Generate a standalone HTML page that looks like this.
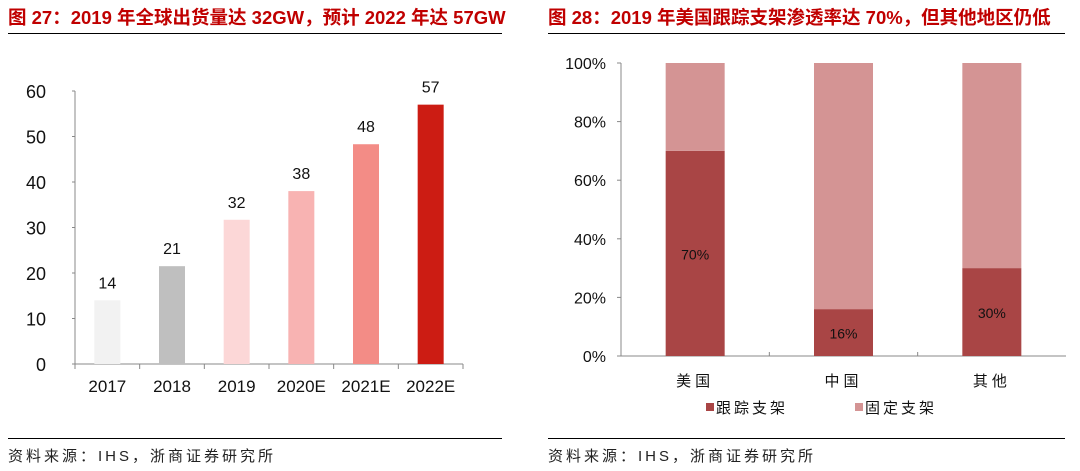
<!DOCTYPE html>
<html><head><meta charset="utf-8">
<style>
body{margin:0;background:#fff;width:1080px;height:471px;overflow:hidden;font-family:"Liberation Sans","Noto Sans CJK SC",sans-serif;}
svg{display:block}
</style></head>
<body>
<svg width="1080" height="471" xmlns="http://www.w3.org/2000/svg">
<g>
<text x="8" y="24" font-size="18.5" font-weight="bold" fill="#c00000" font-family="Liberation Sans,Noto Sans CJK SC,sans-serif">图 27：2019 年全球出货量达 32GW，预计 2022 年达 57GW</text>
<line x1="8" y1="33.5" x2="502" y2="33.5" stroke="#000" stroke-width="1"/>
</g>
<g>
<text x="548" y="24" font-size="18.5" font-weight="bold" fill="#c00000" font-family="Liberation Sans,Noto Sans CJK SC,sans-serif">图 28：2019 年美国跟踪支架渗透率达 70%，但其他地区仍低</text>
<line x1="548" y1="33.5" x2="1065" y2="33.5" stroke="#000" stroke-width="1"/>
</g>
<g id="left"></g>
<g id="right"></g>
<line x1="8" y1="438.5" x2="502" y2="438.5" stroke="#000"/>
<text x="8" y="461" font-size="15" fill="#222" letter-spacing="3">资料来源：IHS，浙商证券研究所</text>
<line x1="548" y1="438.5" x2="1065" y2="438.5" stroke="#000"/>
<text x="548" y="461" font-size="15" fill="#222" letter-spacing="3">资料来源：IHS，浙商证券研究所</text>
</svg>
<script>
const years=["2017","2018","2019","2020E","2021E","2022E"];
const shipments=[14,21.5,31.7,38,48.3,57];
const labels=["14","21","32","38","48","57"];
const yTicksL=[0,10,20,30,40,50,60];
const regions=["美国","中国","其他"];
const tracking=[70,16,30];
const fixed=[30,84,70];
const yTicksR=[0,20,40,60,80,100];
const NS="http://www.w3.org/2000/svg";
function mk(p,t,a,txt){const e=document.createElementNS(NS,t);for(const k in a)e.setAttribute(k,a[k]);if(txt!==undefined)e.textContent=txt;p.appendChild(e);return e;}
const L=document.getElementById('left');
const lx0=75,lx1=463,ly0=364,ly1=91;
const ly=v=>ly0-(v/60)*(ly0-ly1);
const lbw=(lx1-lx0)/years.length;
const colors=["#f2f2f2","#bfbfbf","#fcd7d7","#f8b3b2","#f38c86","#cc1c13"];
yTicksL.forEach(v=>{
 let t=mk(L,'text',{x:46,y:ly(v)+7,'font-size':18,'text-anchor':'end',fill:'#111'},v);
 
 
 let k=mk(L,'line',{x1:72,x2:lx0,y1:ly(v),y2:ly(v),stroke:'#888'});
 
 
});
let ax=mk(L,'line',{x1:lx0,x2:lx0,y1:ly1,y2:ly0,stroke:'#888'});


let xa=mk(L,'line',{x1:lx0,x2:lx1,y1:ly0,y2:ly0,stroke:'#888'});


years.forEach((y,i)=>{
 const cx=lx0+lbw*(i+0.5);
 let b=mk(L,'rect',{x:cx-13,y:ly(shipments[i]),width:26,height:ly0-ly(shipments[i]),fill:colors[i]});
 
 
 let v=mk(L,'text',{x:cx,y:ly(shipments[i])-12,'font-size':16,'text-anchor':'middle',fill:'#111'},labels[i]);
 
 
 let c=mk(L,'text',{x:cx,y:392,'font-size':17,'text-anchor':'middle',fill:'#111'},y);
 
 
});
for(let i=0;i<=years.length;i++){let x=lx0+lbw*i;let t=mk(L,'line',{x1:x,x2:x,y1:ly0,y2:ly0+5,stroke:'#888'});}
const R=document.getElementById('right');
const rx0=621,rx1=1066,ry0=356,ry1=63;
const ry=v=>ry0-(v/100)*(ry0-ry1);
const rbw=(rx1-rx0)/regions.length;
yTicksR.forEach(v=>{
 let t=mk(R,'text',{x:606,y:ry(v)+6,'font-size':16,'text-anchor':'end',fill:'#111'},v+'%');
 
 
 let k=mk(R,'line',{x1:617,x2:rx0,y1:ry(v),y2:ry(v),stroke:'#888'});
 
 
});
let ax2=mk(R,'line',{x1:rx0,x2:rx0,y1:ry1,y2:ry0,stroke:'#888'});


let xa2=mk(R,'line',{x1:rx0,x2:rx1,y1:ry0,y2:ry0,stroke:'#888'});


regions.forEach((r,i)=>{
 const cx=rx0+rbw*(i+0.5);
 let b1=mk(R,'rect',{x:cx-29.5,y:ry(tracking[i]),width:59,height:ry0-ry(tracking[i]),fill:'#a94545'});
 
 
 let b2=mk(R,'rect',{x:cx-29.5,y:ry(tracking[i]+fixed[i]),width:59,height:ry(tracking[i])-ry(tracking[i]+fixed[i]),fill:'#d49494'});
 
 
 let v=mk(R,'text',{x:cx,y:(ry(tracking[i])+ry0)/2+6,'font-size':14,'text-anchor':'middle',fill:'#111'},tracking[i]+'%');
 
 
 let c=mk(R,'text',{x:cx,y:386,'font-size':15,'text-anchor':'middle',fill:'#111','letter-spacing':'4'},r);
 
 
});
for(let i=1;i<regions.length;i++){let x=rx0+rbw*i;let t=mk(R,'line',{x1:x,x2:x,y1:ry0,y2:ry0-4,stroke:'#888'});}
const lg=[["跟踪支架","#a94545",706],["固定支架","#d49494",855]];
lg.forEach(([n,c,x])=>{
 let g=mk(R,'g',{});
 
 
 mk(g,'rect',{x:x,y:403,width:8,height:8,fill:c});
 mk(g,'text',{x:x+10,y:413,'font-size':15,fill:'#111','letter-spacing':'3'},n);
});
</script>
</body></html>
